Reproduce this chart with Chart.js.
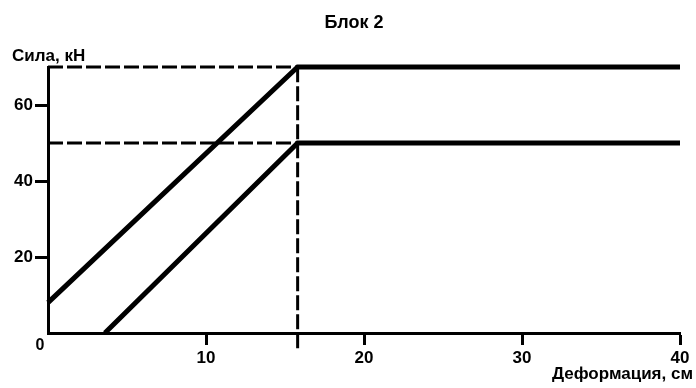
<!DOCTYPE html>
<html>
<head>
<meta charset="utf-8">
<script src="https://cdn.jsdelivr.net/npm/chart.js@4"></script>
<style>
  html, body { margin: 0; padding: 0; background: #fff; }
  #wrap { width: 696px; height: 388px; }
</style>
</head>
<body>
<div id="wrap"><canvas id="chart"></canvas></div>
<script>
// values (x = деформация, см; y = сила, кН)
const xTicks = [10, 20, 30, 40];
const yTicks = [20, 40, 60];

const upperX = [0, 15.8, 40];
const upperY = [8, 70, 70];

const lowerX = [3.6, 15.8, 40];
const lowerY = [0, 50, 50];

// dashed guide lines
const guideTopX = [0, 15.8];
const guideTopY = [70, 70];
const guideMidX = [0, 15.8];
const guideMidY = [50, 50];
const guideVertX = [15.8, 15.8];
const guideVertY = [-4, 70];

const toPoints = (xs, ys) => xs.map((x, i) => ({ x: x, y: ys[i] }));

const FONT = '"Liberation Sans", Arial, sans-serif';

function solid(xs, ys) {
  return {
    data: toPoints(xs, ys),
    showLine: true,
    borderColor: '#000',
    borderWidth: 5,
    pointRadius: 0,
    borderJoinStyle: 'miter',
    clip: false
  };
}

function dashed(xs, ys) {
  return {
    data: toPoints(xs, ys),
    showLine: true,
    borderColor: '#000',
    borderWidth: 3,
    borderDash: [15, 4],
    pointRadius: 0,
    clip: false
  };
}

// free text: title, axis names, origin "0"
const textPlugin = {
  id: 'freeText',
  afterDraw(chart) {
    const ctx = chart.ctx;
    ctx.save();
    ctx.fillStyle = '#000';
    ctx.textBaseline = 'alphabetic';

    ctx.font = 'bold 18px ' + FONT;
    ctx.textAlign = 'center';
    ctx.fillText('Блок 2', 354, 28);

    ctx.font = 'bold 17px ' + FONT;
    ctx.textAlign = 'left';
    ctx.fillText('Сила, кН', 12, 61);

    ctx.textAlign = 'right';
    ctx.fillText('Деформация, см', 693, 379);

    ctx.font = 'bold 16px ' + FONT;
    ctx.textAlign = 'center';
    ctx.fillText('0', 40, 350);
    ctx.restore();
  }
};

new Chart(document.getElementById('chart'), {
  type: 'scatter',
  data: {
    datasets: [
      solid(upperX, upperY),
      solid(lowerX, lowerY),
      dashed(guideTopX, guideTopY),
      dashed(guideMidX, guideMidY),
      dashed(guideVertX, guideVertY)
    ]
  },
  options: {
    responsive: true,
    maintainAspectRatio: false,
    animation: false,
    layout: { padding: { left: 0, right: 16, top: 67, bottom: 0 } },
    plugins: {
      legend: { display: false },
      title: { display: false },
      tooltip: { enabled: false }
    },
    scales: {
      x: {
        type: 'linear',
        min: 0,
        max: 40,
        afterBuildTicks: scale => { scale.ticks = xTicks.map(v => ({ value: v })); },
        afterFit: scale => { scale.height = 55; },
        border: { display: true, color: '#000', width: 3 },
        grid: {
          drawOnChartArea: false,
          drawTicks: true,
          tickLength: 12,
          tickWidth: 3,
          tickColor: '#000'
        },
        ticks: {
          color: '#000',
          padding: 3,
          maxRotation: 0,
          font: { family: FONT, size: 17, weight: 'bold' }
        }
      },
      y: {
        type: 'linear',
        min: 0,
        max: 70,
        afterBuildTicks: scale => { scale.ticks = yTicks.map(v => ({ value: v })); },
        afterFit: scale => { scale.width = 48; },
        border: { display: true, color: '#000', width: 3 },
        grid: {
          drawOnChartArea: false,
          drawTicks: true,
          tickLength: 13,
          tickWidth: 3,
          tickColor: '#000'
        },
        ticks: {
          color: '#000',
          padding: 2,
          font: { family: FONT, size: 17, weight: 'bold' }
        }
      }
    }
  },
  plugins: [textPlugin]
});
</script>
</body>
</html>
